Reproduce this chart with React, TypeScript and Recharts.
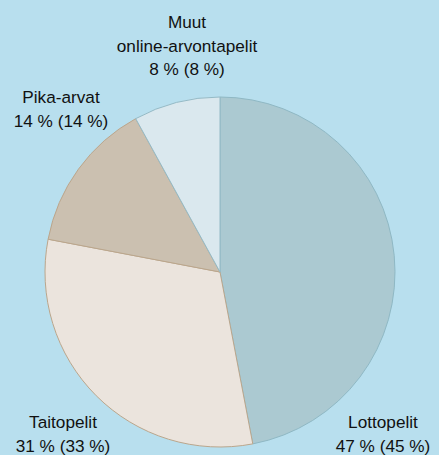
import { PieChart, Pie, Cell } from 'recharts';

// pelityypit, osuus tänä vuonna ja (edellinen vuosi)
const categories = ['Lottopelit', 'Taitopelit', 'Pika-arvat', 'Muut\nonline-arvontapelit'];
const shares = [47, 31, 14, 8];
const prevShares = [45, 33, 14, 8];

const fills = ['#abc9d1', '#ebe4dd', '#cbc0b0', '#dae8ee'];
const strokes = ['#8fb8c4', '#bba68c', '#bba68c', '#94bac6'];

// label anchor offsets from the pie centre (x centre, first baseline)
const labelOffsets = [
  { dx: 163, dy: 156 },
  { dx: -157, dy: 156 },
  { dx: -159, dy: -169 },
  { dx: -33, dy: -244 },
];

const data = categories.map((name, i) => ({
  name,
  value: shares[i],
  prev: prevShares[i],
}));

const FONT = '"Liberation Sans", Arial, Helvetica, sans-serif';
const LINE = 23.5;

function renderLabel(props: any) {
  const { cx, cy, index } = props;
  const d = data[index];
  const off = labelOffsets[index];
  const lines = [...d.name.split('\n'), `${d.value} % (${d.prev} %)`];
  return (
    <text
      key={`lbl-${index}`}
      x={cx + off.dx}
      y={cy + off.dy}
      textAnchor="middle"
      fill="#111111"
      fontFamily={FONT}
      fontSize={17.2}
    >
      {lines.map((l, j) => (
        <tspan key={j} x={cx + off.dx} dy={j === 0 ? 0 : LINE}>
          {l}
        </tspan>
      ))}
    </text>
  );
}

export default function App() {
  return (
    <div
      style={{
        position: 'fixed',
        left: 0,
        top: 0,
        width: 439,
        height: 455,
        background: '#b8dfee',
      }}
    >
      <PieChart width={439} height={455} margin={{ top: 0, right: 0, bottom: 0, left: 0 }}>
        <Pie
          data={data}
          dataKey="value"
          nameKey="name"
          cx={220}
          cy={272}
          outerRadius={175}
          startAngle={90}
          endAngle={-270}
          paddingAngle={0}
          label={renderLabel}
          labelLine={false}
          isAnimationActive={false}
        >
          {data.map((d, i) => (
            <Cell key={d.name} fill={fills[i]} stroke={strokes[i]} strokeWidth={1} />
          ))}
        </Pie>
      </PieChart>
    </div>
  );
}
